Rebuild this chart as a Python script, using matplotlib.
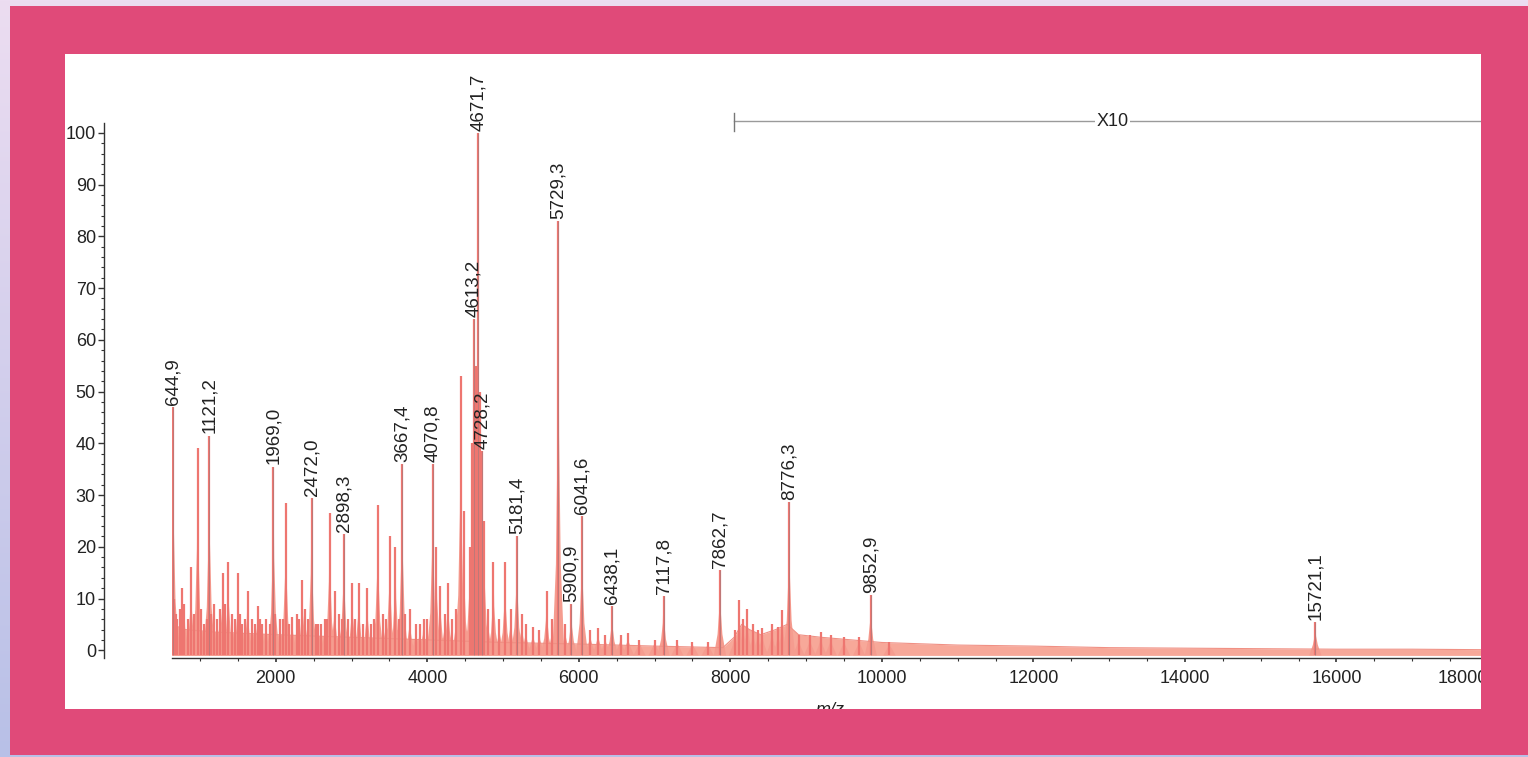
import numpy as np
import matplotlib.pyplot as plt
from matplotlib.patches import Rectangle
from matplotlib.colors import LinearSegmentedColormap
from matplotlib.ticker import FixedLocator

plt.rcParams['font.family'] = ['Liberation Sans', 'DejaVu Sans']

# labelled peaks (m/z, relative intensity)
label_mz = [644.9, 1121.2, 1969.0, 2472.0, 2898.3, 3667.4, 4070.8, 4613.2,
            4671.7, 4728.2, 5181.4, 5729.3, 5900.9, 6041.6, 6438.1, 7117.8,
            7862.7, 8776.3, 9852.9, 15721.1]
label_h = [47, 41.5, 35.5, 29.5, 22.5, 36, 36, 64,
           100, 38.5, 22, 83, 9, 26, 8.5, 10.5,
           15.5, 28.7, 10.6, 5.4]

# unlabelled peaks
other_mz = [660, 680, 700, 740, 760, 794, 840, 882, 920, 969, 1010, 1050,
            1090, 1150, 1180, 1230, 1260, 1298, 1330, 1373, 1420, 1460, 1504,
            1530, 1560, 1600, 1627, 1690, 1730, 1759, 1790, 1820, 1868, 1920,
            1990, 2060, 2100, 2132, 2180, 2219, 2280, 2310, 2351, 2390, 2420,
            2530, 2560, 2592, 2650, 2680, 2711, 2776, 2840, 2870, 2950, 3009,
            3050, 3096, 3150, 3206, 3260, 3300, 3346, 3420, 3450, 3504, 3579,
            3620, 3700, 3768, 3850, 3900, 3950, 4000, 4120, 4171, 4230, 4272,
            4320, 4380, 4440, 4478, 4560, 4590, 4640, 4700, 4750, 4800, 4873,
            4950, 5026, 5100, 5246, 5300, 5395, 5480, 5575, 5650, 5820, 6150,
            6254, 6350, 6550, 6649, 6800, 7000, 7300, 7500, 7700, 8060, 8118,
            8170, 8224, 8300, 8360, 8421, 8550, 8630, 8684, 8900, 9050, 9193,
            9325, 9500, 9700, 10100]
other_h = [10, 7, 6, 8, 12, 9, 6, 16, 7, 39, 8, 5,
           6, 7, 9, 6, 8, 15, 9, 17, 7, 6, 15,
           7, 5, 6, 11.5, 6, 5, 8.5, 6, 5, 6, 5,
           7, 6, 6, 28.5, 5, 6.5, 7, 6, 13.5, 8, 6,
           5, 5, 5, 6, 6, 26.5, 11.5, 7, 6, 6, 13,
           6, 13, 5, 12, 5, 6, 28, 7, 6, 22, 20,
           6, 7, 8, 5, 5, 6, 6, 20, 12.5, 7, 13,
           6, 8, 53, 27, 20, 40, 55, 50, 25, 8, 17,
           6, 17, 8, 7, 5, 4.5, 4, 11.5, 6, 5, 4,
           4.3, 3, 3, 3.3, 2, 2, 2, 1.5, 1.5, 4, 9.7,
           6, 8, 5, 4, 4.3, 5, 4.5, 7.7, 3, 3, 3.5,
           3, 2.5, 2.5, 1.5]

# baseline envelope
noise_mz = [630, 800, 1200, 2000, 3000, 4000, 5000, 6000, 7000, 7900, 8050,
            8150, 8250, 8400, 8600, 8750, 8900, 9200, 9600, 10000, 11000,
            12000, 13000, 14000, 15000, 16000, 17000, 18000]
noise_lvl = [5, 4, 3.5, 3, 2.5, 2, 1.5, 1.2, 0.8, 0.5, 2.5,
             5, 4, 3, 4, 5, 3, 2.5, 2, 1.5, 1.0,
             0.8, 0.5, 0.4, 0.3, 0.2, 0.2, 0.1]

x_ticks = [2000, 4000, 6000, 8000, 10000, 12000, 14000, 16000, 18000]
y_ticks = [0, 10, 20, 30, 40, 50, 60, 70, 80, 90, 100]

W, H = 1528, 757
fig = plt.figure(figsize=(W / 100, H / 100), dpi=100)

# background slide
bg = fig.add_axes([0, 0, 1, 1], zorder=0)
bg.set_xlim(0, W)
bg.set_ylim(H, 0)
bg.axis('off')
cmap = LinearSegmentedColormap.from_list('lav', ['#ECDDF1', '#B8C0E7'])
bg.imshow(np.linspace(0, 1, 256).reshape(-1, 1), extent=[0, W, H, 0],
          aspect='auto', cmap=cmap)
bg.add_patch(Rectangle((65, 54), 1481 - 65, 709 - 54, color='white'))

# spectrum
ax = fig.add_axes([172 / W, 1 - 658 / H, (1488 - 172) / W, (658 - 62) / H],
                  zorder=5)
ax.set_facecolor('none')
ax.set_xlim(630, 18000)
ax.set_ylim(-1.5, 113.7)

base = -1.0
ax.fill_between(noise_mz, base, noise_lvl, color='#F7A899', lw=0)
ax.plot(noise_mz, noise_lvl, color='#F09084', lw=0.8)

all_mz = other_mz + label_mz
all_h = other_h + label_h
for m, h in zip(all_mz, all_h):
    ax.fill([m - 80, m - 32, m - 10, m, m + 10, m + 32, m + 80],
            [base, h * 0.2, h * 0.5, h, h * 0.5, h * 0.2, base],
            color='#F59C8F', lw=0)
ax.vlines(all_mz, base, all_h, color='#EE7670', lw=1.6)
ax.vlines(label_mz, base, label_h, color='#9A7A7E', lw=0.5, alpha=0.8)

for m, h in zip(label_mz, label_h):
    ax.annotate(f'{m:.1f}'.replace('.', ','), (m, h), xytext=(0, 1.5),
                textcoords='offset points', rotation=90, ha='center',
                va='bottom', fontsize=13.5, color='#222222')

# x10 zoom marker
ax.plot([8050, 18000], [102.2, 102.2], color='#9A9A9A', lw=1)
ax.plot([8050, 8050], [100.4, 103.8], color='#777777', lw=1)
ax.text(13050, 102.2, 'X10', ha='center', va='center', fontsize=13,
        color='#222222', bbox=dict(fc='white', ec='none', pad=1))

for s in ['top', 'right']:
    ax.spines[s].set_visible(False)
ax.spines['left'].set_position(('outward', 49))
ax.spines['left'].set_bounds(-1.5, 102)
for s in ['left', 'bottom']:
    ax.spines[s].set_color('#333333')
    ax.spines[s].set_linewidth(1)

ax.set_yticks(y_ticks)
ax.yaxis.set_minor_locator(FixedLocator(np.arange(0, 101, 2)))
ax.set_xticks(x_ticks, labels=[str(t) for t in x_ticks])
ax.xaxis.set_minor_locator(FixedLocator(np.arange(1000, 18001, 500)))
ax.get_xticklabels()[-1].set_horizontalalignment('right')

ax.tick_params(axis='y', which='major', length=4.3, width=1, pad=1.5,
               labelsize=13, colors='#333333', labelcolor='#222222')
ax.tick_params(axis='y', which='minor', length=2.2, width=0.8,
               colors='#333333')
ax.tick_params(axis='x', which='major', length=3, width=1.2, pad=5.5,
               labelsize=13, colors='#333333', labelcolor='#222222')
ax.tick_params(axis='x', which='minor', length=2.5, width=0.8,
               colors='#333333')
ax.set_xlabel('m/z', fontstyle='italic', fontsize=13, labelpad=11,
              color='#222222')

# pink slide frame on top
ov = fig.add_axes([0, 0, 1, 1], zorder=10)
ov.set_xlim(0, W)
ov.set_ylim(H, 0)
ov.axis('off')
pink = '#E04A79'
ov.add_patch(Rectangle((10, 6), W - 10, 54 - 6, color=pink, lw=0))
ov.add_patch(Rectangle((10, 709), W - 10, 755 - 709, color=pink, lw=0))
ov.add_patch(Rectangle((10, 54), 65 - 10, 709 - 54, color=pink, lw=0))
ov.add_patch(Rectangle((1481, 54), W - 1481, 709 - 54, color=pink, lw=0))

fig.savefig('out.png', dpi=100)
